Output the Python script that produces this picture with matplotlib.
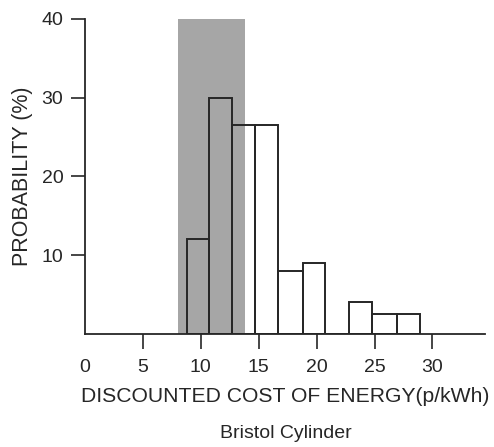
import matplotlib
matplotlib.use("Agg")
import matplotlib.pyplot as plt

plt.rcParams['font.family'] = ['Liberation Sans', 'DejaVu Sans']

# bin edges (p/kWh) and probability (%)
bin_edges = [8.8, 10.7, 12.7, 14.7, 16.7, 18.8, 20.7, 22.8, 24.8, 26.9, 28.9]
probability = [12.0, 30.0, 26.5, 26.5, 8.0, 9.0, 0.0, 4.0, 2.5, 2.5]
shade_range = [8.0, 13.8]
x_ticks = [0, 5, 10, 15, 20, 25, 30]
y_ticks = [10, 20, 30, 40]

ink = '#262626'
fig = plt.figure(figsize=(4.94, 4.47), dpi=100)
ax = fig.add_axes([0.172, 0.253, 0.809, 0.705])

ax.axvspan(shade_range[0], shade_range[1], color='#a6a6a6', lw=0, zorder=1)

lefts = bin_edges[:-1]
widths = [b - a for a, b in zip(bin_edges[:-1], bin_edges[1:])]
ax.bar(lefts, probability, width=widths, align='edge', fill=False,
       edgecolor=ink, linewidth=1.4, zorder=2)

ax.set_xlim(0, 34.5)
ax.set_ylim(0, 40)
ax.spines['top'].set_visible(False)
ax.spines['right'].set_visible(False)
for s in ('left', 'bottom'):
    ax.spines[s].set_color(ink)
    ax.spines[s].set_linewidth(1.3)

ax.set_xticks(x_ticks)
ax.set_yticks(y_ticks)
ax.tick_params(axis='x', direction='out', length=11, width=1.2, pad=7,
               labelsize=14, colors=ink)
ax.tick_params(axis='y', direction='out', length=10, width=1.2, pad=5.5,
               labelsize=14, colors=ink)
# no tick mark at the origin, only its label
ax.xaxis.get_major_ticks()[0].tick1line.set_visible(False)

ax.set_xlabel('DISCOUNTED COST OF ENERGY(p/kWh)', fontsize=15.2, color=ink,
              labelpad=8)
ax.set_ylabel('PROBABILITY (%)', fontsize=15.5, color=ink, labelpad=6)
fig.text(0.578, 0.031, 'Bristol Cylinder', ha='center', va='center',
         fontsize=14, color=ink)

fig.savefig('out.png', dpi=100)
